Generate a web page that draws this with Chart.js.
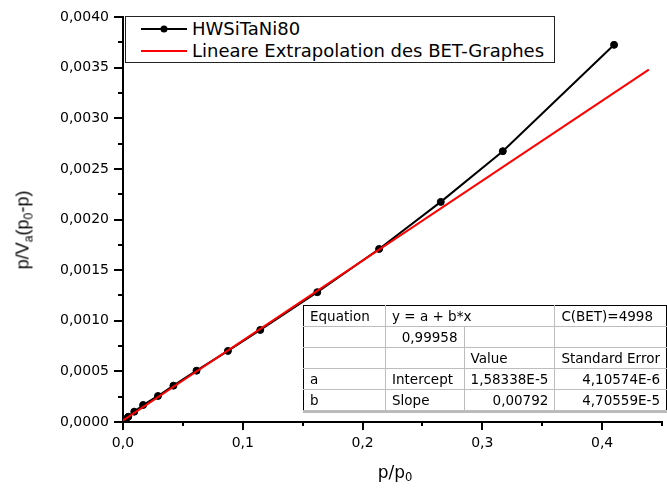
<!DOCTYPE html>
<html>
<head>
<meta charset="utf-8">
<script src="https://cdn.jsdelivr.net/npm/chart.js@4"></script>
<style>
  body { margin: 0; background: #fff; }
  #wrap { position: relative; width: 667px; height: 492px; overflow: hidden; }
  #betChart { position: absolute; left: 0; top: 0; }
  #legend {
    position: absolute; left: 125px; top: 16px; width: 428px; height: 45px;
    border: 1px solid #222; background: #fff;
    font: 18px "DejaVu Sans", sans-serif; color: #000;
  }
  #legend .row { position: absolute; left: 0; height: 22px; line-height: 22px; }
  #legend svg { position: absolute; left: 14px; top: 5px; }
  #legend .txt { position: absolute; left: 66px; top: 0; white-space: nowrap; }
  #fitTable {
    position: absolute; left: 303px; top: 305px; width: 364px;
    border-collapse: collapse; background: #fff;
    font: 13.5px "DejaVu Sans", sans-serif; color: #000;
    box-shadow: 0 2px 0 #bbb;
  }
  #fitTable td {
    border: 1px solid #bdbdbd; height: 20px; padding: 0 6px; white-space: nowrap;
  }
  #fitTable tr:first-child td { border-top: 1px solid #000; }
  #fitTable td:first-child { border-left: 1px solid #000; }
  #fitTable td:last-child { border-right: 1px solid #000; }
  #fitTable .r { text-align: right; }
  #yTitle, #xTitle {
    position: absolute; white-space: nowrap; color: #000;
  }
  #yTitle {
    left: 23px; top: 230px; font: 18px "Liberation Sans", sans-serif;
    transform: translate(-50%, -50%) rotate(-90deg);
  }
  #xTitle {
    left: 395px; top: 472px; font: 17px "DejaVu Sans", sans-serif;
    transform: translate(-50%, -50%);
  }
  sub { font-size: 68%; vertical-align: -0.3em; line-height: 0; }
</style>
</head>
<body>
<div id="wrap">
  <canvas id="betChart" width="667" height="492"></canvas>
  <div id="legend">
    <div class="row" style="top:1px">
      <svg width="48" height="12"><line x1="1" y1="6" x2="47" y2="6" stroke="#000" stroke-width="2"/><circle cx="24" cy="6" r="3.5" fill="#000"/></svg>
      <span class="txt">HWSiTaNi80</span>
    </div>
    <div class="row" style="top:23px">
      <svg width="48" height="12"><line x1="1" y1="6" x2="47" y2="6" stroke="#f00" stroke-width="2"/></svg>
      <span class="txt">Lineare Extrapolation des BET-Graphes</span>
    </div>
  </div>
  <table id="fitTable">
    <tr><td style="width:72px">Equation</td><td colspan="2">y = a + b*x</td><td>C(BET)=4998</td></tr>
    <tr><td></td><td class="r" style="width:67px">0,99958</td><td style="width:77px"></td><td></td></tr>
    <tr><td></td><td></td><td>Value</td><td>Standard Error</td></tr>
    <tr><td>a</td><td>Intercept</td><td class="r">1,58338E-5</td><td class="r">4,10574E-6</td></tr>
    <tr><td>b</td><td>Slope</td><td class="r">0,00792</td><td class="r">4,70559E-5</td></tr>
  </table>
  <div id="yTitle">p/V<sub>a</sub>(p<sub>0</sub>-p)</div>
  <div id="xTitle">p/p<sub>0</sub></div>
</div>
<script>
// Data
const relPressure = [0.0025, 0.0044, 0.0094, 0.0168, 0.0292, 0.0421, 0.0614, 0.0876, 0.1146, 0.1622, 0.2138, 0.2653, 0.3171, 0.410];
const betValues = [0.000030, 0.000052, 0.000102, 0.000168, 0.000257, 0.000359, 0.000507, 0.000702, 0.000909, 0.001282, 0.001709, 0.002174, 0.002675, 0.003725];
// fitted straight line (end points)
const fitX = [0, 0.439];
const fitY = [0.0000158, 0.00348];

const seriesName = "HWSiTaNi80";
const fitName = "Lineare Extrapolation des BET-Graphes";

// ::::: minor / major tick marks like Origin draws them :::::
const tickMarks = {
    id: "tickMarks",
    afterDraw(chart) {
        const ctx = chart.ctx;
        const x = chart.scales.x;
        const y = chart.scales.y;
        const axisY = chart.chartArea.bottom;
        const axisX = chart.chartArea.left;
        ctx.save();
        ctx.strokeStyle = "#000";
        ctx.lineWidth = 2;
        ctx.beginPath();
        for (let i = 0; i <= 9; i++) {
            const px = Math.round(x.getPixelForValue(i * 0.05));
            const len = i % 2 === 0 ? 8 : 4;
            ctx.moveTo(px, axisY);
            ctx.lineTo(px, axisY + len);
        }
        for (let i = 0; i <= 16; i++) {
            const py = Math.round(y.getPixelForValue(i * 0.00025));
            const len = i % 2 === 0 ? 9 : 5;
            ctx.moveTo(axisX, py);
            ctx.lineTo(axisX - len, py);
        }
        ctx.stroke();
        ctx.restore();
    }
};

var ctx = document.getElementById("betChart");
var betChart = new Chart(ctx, {
    type: "scatter",
    data: {
        datasets: [{
            label: seriesName,
            data: relPressure.map((v, i) => ({ x: v, y: betValues[i] })),
            showLine: true,
            borderColor: "#000",
            backgroundColor: "#000",
            borderWidth: 2,
            pointRadius: 3.5,
            pointBorderWidth: 1,
            order: 1
        }, {
            label: fitName,
            data: fitX.map((v, i) => ({ x: v, y: fitY[i] })),
            showLine: true,
            borderColor: "#ff0000",
            backgroundColor: "#ff0000",
            borderWidth: 2,
            pointRadius: 0,
            order: 0
        }]
    },
    options: {
        responsive: false,
        animation: false,
        devicePixelRatio: 1,
        layout: { padding: { top: 17, right: 0, left: 0, bottom: 0 } },
        scales: {
            x: {
                type: "linear",
                min: 0,
                max: 0.45,
                afterFit: (s) => { s.height = 70; },
                grid: { display: false, drawTicks: true, tickLength: 9 },
                border: { display: true, color: "#000", width: 2 },
                ticks: {
                    stepSize: 0.1,
                    includeBounds: false,
                    padding: 4,
                    color: "#000",
                    font: { family: "DejaVu Sans", size: 14 },
                    callback: (v) => v.toFixed(1).replace(".", ",")
                }
            },
            y: {
                type: "linear",
                min: 0,
                max: 0.004,
                afterFit: (s) => { s.width = 123; },
                grid: { display: false, drawTicks: true, tickLength: 9 },
                border: { display: true, color: "#000", width: 2 },
                ticks: {
                    stepSize: 0.0005,
                    padding: 5,
                    color: "#000",
                    font: { family: "DejaVu Sans", size: 14 },
                    callback: (v) => v.toFixed(4).replace(".", ",")
                }
            }
        },
        plugins: {
            legend: { display: false },
            tooltip: { enabled: false }
        }
    },
    plugins: [tickMarks]
});
</script>
</body>
</html>
